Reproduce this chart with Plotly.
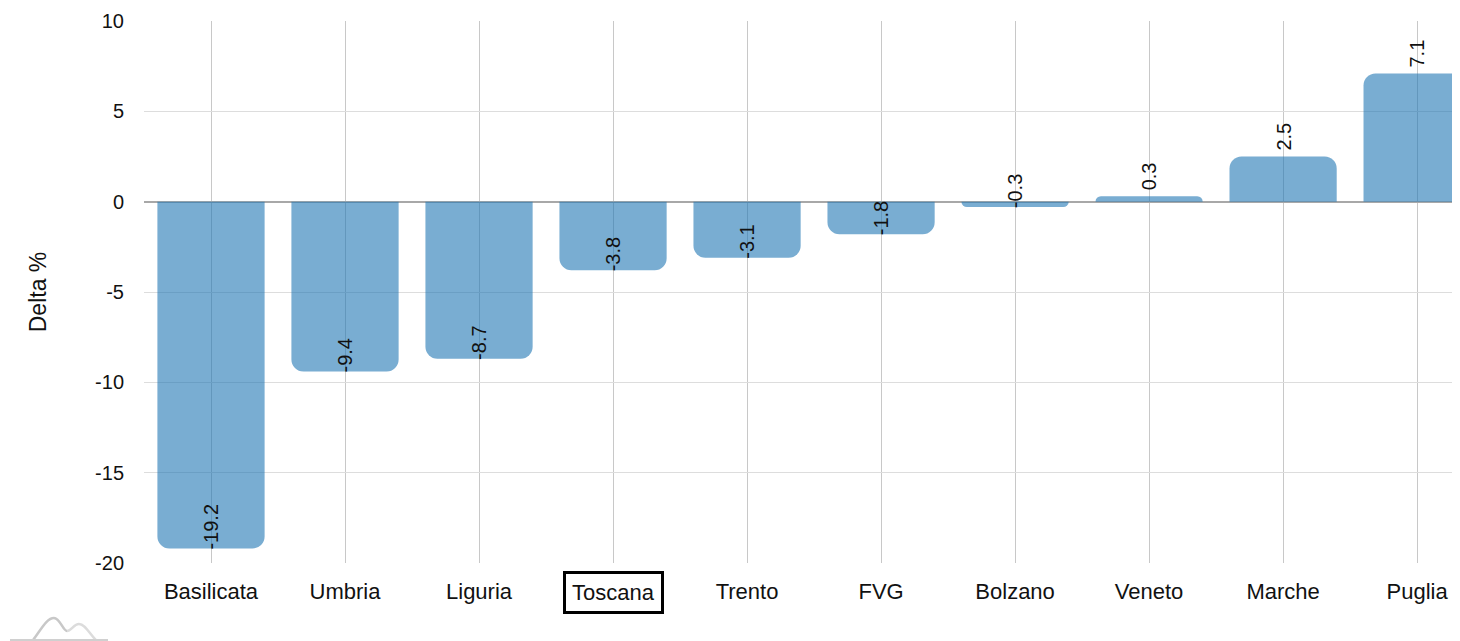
import plotly.graph_objects as go

regions = ["Basilicata", "Umbria", "Liguria", "Toscana", "Trento",
           "FVG", "Bolzano", "Veneto", "Marche", "Puglia"]
delta = [-19.2, -9.4, -8.7, -3.8, -3.1, -1.8, -0.3, 0.3, 2.5, 7.1]
highlight = "Toscana"
y_ticks = [-20, -15, -10, -5, 0, 5, 10]

FONT = "Liberation Sans, Arial, sans-serif"

# the page body has an 8px margin; the figure sits 8px in from the corner
OFF = 8
W, H = 1460 - OFF, 641 - OFF
# wanted plot area in window pixels
L, R, T, B = 144, 1460, 21, 563


def px(x, y):
    return (x - L) / (R - L), (B - y) / (B - T)


fig = go.Figure(go.Bar(
    x=regions,
    y=delta,
    marker=dict(color="rgba(31,119,180,0.6)", cornerradius=12, line=dict(width=0)),
    hovertemplate="%{x}: %{y}<extra></extra>",
))

# value labels, rotated, sitting on the end of each bar
for r, v in zip(regions, delta):
    fig.add_annotation(
        x=r, y=v, text=f"{v:g}", textangle=-90, showarrow=False,
        yanchor="bottom", xanchor="center", yshift=4 if v > 0 else -3,
        font=dict(size=20, color="#111", family=FONT),
    )

# boxed category label
fig.add_annotation(
    x=highlight, y=0, yref="paper", yanchor="top", yshift=-8,
    text=highlight, showarrow=False,
    bordercolor="black", borderwidth=3, borderpad=6, bgcolor="white",
    font=dict(size=22, color="#111", family=FONT),
)

# faint mountains logo
def seg(*xy):
    return " ".join("{:.4f},{:.4f}".format(*px(xy[i], xy[i + 1])) for i in range(0, len(xy), 2))


peak1 = "M " + seg(33, 640) + " C " + seg(42, 628, 47, 618, 54, 618) + " C " + seg(60, 618, 63, 631, 67, 631)
peak2 = "M " + seg(67, 631) + " C " + seg(71, 631, 74, 624, 79, 624) + " C " + seg(85, 624, 89, 633, 96, 640)
fig.add_shape(type="path", path=peak1, xref="paper", yref="paper",
              line=dict(color="#c8c8c8", width=2.5))
fig.add_shape(type="path", path=peak2, xref="paper", yref="paper",
              line=dict(color="#dcdcdc", width=2.5))
a, b = px(10, 640), px(108, 640)
fig.add_shape(type="line", x0=a[0], y0=a[1], x1=b[0], y1=b[1],
              xref="paper", yref="paper", line=dict(color="#d0d0d0", width=2))

fig.update_layout(
    width=W, height=H,
    margin=dict(l=L - OFF, r=W + OFF - R, t=T - OFF, b=H + OFF - B, autoexpand=False),
    paper_bgcolor="white", plot_bgcolor="white",
    bargap=0.2, showlegend=False,
    font=dict(family=FONT, size=20, color="#111"),
)
fig.update_xaxes(
    range=[-0.5, 9.32], automargin=False,
    tickvals=regions,
    ticktext=["" if r == highlight else r for r in regions],
    showgrid=True, gridcolor="#c8c8c8", gridwidth=1,
    ticks="", ticklabelstandoff=13, showline=False,
    tickfont=dict(size=22),
)
fig.update_yaxes(
    range=[-20, 10], automargin=False,
    tickvals=y_ticks, ticktext=[str(v) for v in y_ticks],
    showgrid=True, gridcolor="#dddddd", gridwidth=1,
    zeroline=True, zerolinecolor="#a8a8a8", zerolinewidth=1.5,
    ticklabelstandoff=19, tickfont=dict(size=20),
    title=dict(text="Delta %", font=dict(size=23), standoff=42),
)

fig.write_html("out.html")
